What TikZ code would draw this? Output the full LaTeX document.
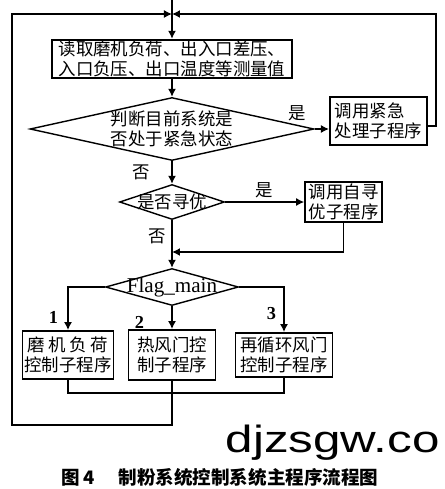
\documentclass[tikz,border=0pt]{standalone}
\usepackage{fontspec}
\setmainfont{Liberation Serif}
\newfontfamily\cjk{Noto Sans CJK SC}
\newfontfamily\wmfont{Liberation Sans}
\usetikzlibrary{shapes.geometric,arrows.meta,positioning}
\newcommand{\cjktext}{\cjk\fontsize{12.4}{14}\selectfont}

\begin{document}
\begin{tikzpicture}[>={Latex[length=2mm,width=2mm]}, line width=1pt, on grid,
    box/.style={draw, line width=1.3pt, inner sep=1pt, align=center, font=\cjktext},
    dec/.style={draw, diamond, inner sep=0pt},
    lbl/.style={inner sep=1pt, font=\cjktext},
    num/.style={inner sep=1pt, font=\bfseries\fontsize{13}{13}\selectfont}]
	\useasboundingbox (0,0) rectangle (11.1,-12.225);

	\coordinate (start) at (4.3,0);
	\coordinate[below=0.35 of start] (J);
	\coordinate (leftx) at (0.3,0);
	\coordinate (rightx) at (10.9,0);

	\node[box, minimum width=6cm, minimum height=0.95cm] (read) at (4.3,-1.475) {读取磨机负荷、出入口差压、\\入口负压、出口温度等测量值};
	\node[dec, minimum width=7.1cm, minimum height=1.575cm, below=1.75 of read,
	      label={[font=\cjktext, align=center]center:判断目前系统是\\否处于紧急状态}] (emerg) {};
	\node[box, align=left, minimum width=2.425cm, minimum height=1.2cm, right=5.16 of emerg, yshift=0.2cm] (urgent) {调用紧急\\处理子程序};
	\node[dec, minimum width=2.625cm, minimum height=0.875cm, below=1.825 of emerg,
	      label={[font=\cjktext]center:是否寻优}] (seek) {};
	\node[box, minimum width=1.925cm, minimum height=1cm, right=4.29 of seek] (seekbox) {调用自寻\\优子程序};
	\coordinate[below=1.25 of seek] (merge);
	\node[dec, minimum width=3.325cm, minimum height=0.925cm, below=2.125 of seek,
	      label={[font=\fontsize{15}{15}\selectfont]center:Flag\_main}] (flag) {};
	\node[box, minimum width=2.175cm, minimum height=1.25cm, below=1.7 of flag] (hot) {热风门控\\制子程序};
	\node[box, minimum width=2.275cm, minimum height=1.2cm, left=2.6 of hot] (mill) {\hbox to 4.6em{磨\hfil 机\hfil 负\hfil 荷}\\控制子程序};
	\node[box, minimum width=2.425cm, minimum height=1.1cm, right=2.8 of hot] (recirc) {再循环风门\\控制子程序};
	\coordinate[below=0.95 of hot] (join);
	\coordinate[below=1.75 of hot] (back);

	% main flow
	\draw[->] (start) -- (read);
	\draw[->] (read) -- (emerg);
	\draw[->] (emerg.east) -- (emerg.east -| urgent.west)
		node[lbl, pos=0, xshift=-4.3mm, yshift=4mm] {是};
	\draw[->] (emerg) -- node[lbl, anchor=east, xshift=-5mm] {否} (seek);
	\draw[->] (seek) -- node[lbl, anchor=south, yshift=0.5mm] {是} (seekbox);
	\draw (seek) -- node[lbl, anchor=east, xshift=-1mm] {否} (merge);
	\draw[->] (seekbox.south) |- (merge);
	\draw[->] (merge) -- (flag);

	% branches
	\draw[->] (flag.west) -| node[num, pos=0.85, anchor=east, xshift=-2mm] {1} (mill.north);
	\draw[->] (flag) -- node[num, pos=0.7, anchor=east, xshift=-6.5mm] {2} (hot);
	\draw[->] (flag.east) -| node[num, pos=0.79, anchor=east, xshift=-1.5mm] {3} (recirc.north);

	% loop back
	\draw (mill.south) -- (mill.south |- join) -- (recirc.south |- join) -- (recirc.south);
	\draw[->] (hot.south) -- (back) -| (leftx |- J) -- (J);
	\draw[->] ([yshift=-1.25mm]urgent.east) -| (rightx |- J) -- (J);

	\node[anchor=base west, inner sep=0pt, font=\wmfont\fontsize{27}{27}\selectfont] (wm) at (5.625,-11.3) {\scalebox{1.3}[1]{djzsgw.co}};
	\node[inner sep=0pt, font=\cjk\bfseries\fontsize{13.2}{13.2}\selectfont] (caption) at (5.5,-11.925) {图\,4\hspace{1.3em}制粉系统控制系统主程序流程图};
\end{tikzpicture}
\end{document}
